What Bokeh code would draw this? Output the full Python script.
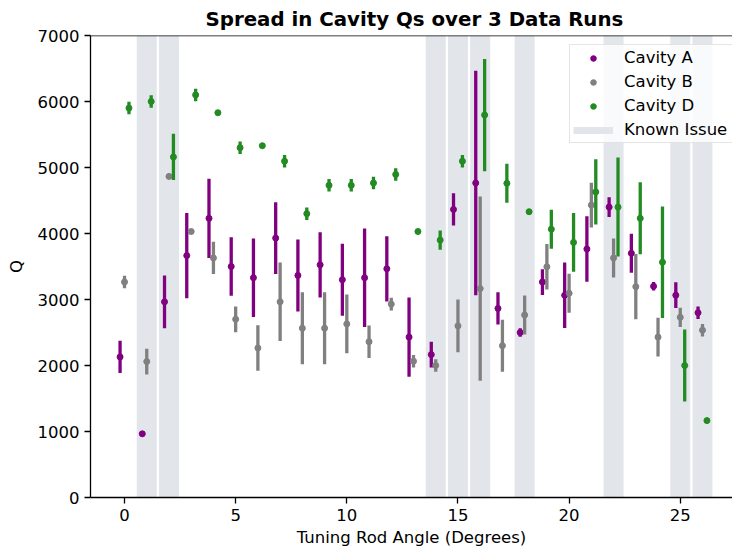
from bokeh.plotting import figure
from bokeh.models import Range1d, FixedTicker, Legend, LegendItem, Span
from bokeh.embed import file_html
from bokeh.resources import INLINE

# Tuning rod angles (degrees) and measured Q per cavity: mean and half-spread over 3 runs
angles = list(range(27))
cavity_a_q = [2130, 965, 2965, 3665, 4230, 3500, 3330, 3930, 3365, 3525, 3300, 3330, 3465, 2430,
              2165, 4365, 4765, 2865, 2500, 3265, 3065, 3765, 4400, 3700, 3200, 3065, 2800]
cavity_a_err = [245, 30, 400, 645, 600, 445, 595, 545, 545, 495, 545, 745, 495, 600,
                195, 245, 1700, 245, 65, 195, 495, 495, 150, 295, 65, 195, 95]
cavity_b_q = [3265, 2060, 4865, 4030, 3630, 2700, 2265, 2965, 2565, 2565, 2630, 2360, 2930, 2065,
              2000, 2600, 3165, 2300, 2765, 3495, 3095, 4430, 3630, 3195, 2430, 2730, 2535]
cavity_b_err = [95, 195, 30, 30, 245, 195, 345, 595, 545, 545, 445, 245, 95, 95,
                95, 400, 1395, 395, 295, 345, 295, 340, 295, 495, 295, 145, 95]
cavity_d_q = [5900, 6000, 5160, 6100, 5830, 5300, 5330, 5095, 4300, 4730, 4730, 4765, 4895, 4030,
              3900, 5095, 5795, 4760, 4330, 4065, 3865, 4630, 4400, 4230, 3565, 2000, 1165]
cavity_d_err = [95, 95, 350, 95, 30, 95, 30, 95, 95, 95, 95, 95, 95, 30,
                145, 95, 850, 295, 30, 295, 445, 495, 750, 545, 845, 545, 30]
issue_angles = [1, 2, 14, 15, 16, 18, 22, 25, 26]

x_ticks = [0, 5, 10, 15, 20, 25]
y_ticks = [0, 1000, 2000, 3000, 4000, 5000, 6000, 7000]

FONT = "DejaVu Sans"
BAND = "#e2e6eb"

p = figure(width=732, height=550, output_backend="svg", toolbar_location=None,
           x_range=Range1d(-1.53, 27.35), y_range=Range1d(0, 7000),
           min_border_left=90, min_border_right=0, min_border_top=34, min_border_bottom=53,
           background_fill_color="white", border_fill_color="white")

# shaded angles with known problems
p.quad(left=[a - 0.45 for a in issue_angles], right=[a + 0.45 for a in issue_angles],
       bottom=0, top=7000, fill_color=BAND, line_color=None)

series = [
    ("Cavity A", cavity_a_q, cavity_a_err, -0.2, "#800080"),
    ("Cavity B", cavity_b_q, cavity_b_err, 0.0, "#808080"),
    ("Cavity D", cavity_d_q, cavity_d_err, 0.2, "#228b22"),
]

items = []
for name, q, err, shift, color in series:
    xs = [a + shift for a in angles]
    lo = [v - e for v, e in zip(q, err)]
    hi = [v + e for v, e in zip(q, err)]
    p.segment(x0=xs, y0=lo, x1=xs, y1=hi, line_color=color, line_width=3.3)
    pts = p.scatter(xs, q, size=6, fill_color=color, line_color=color)
    items.append(LegendItem(label=name, renderers=[pts]))

# legend-only handle for the shaded bands (a single undrawn NaN point)
issue_handle = p.line(x=[float("nan")], y=[float("nan")], line_color=BAND, line_width=7)
items.append(LegendItem(label="Known Issue", renderers=[issue_handle]))

legend = Legend(items=items, location=(479, 354), orientation="vertical",
                glyph_width=40, glyph_height=14, label_height=14, label_width=112,
                label_standoff=11, spacing=5, padding=3, margin=0,
                label_text_font=FONT, label_text_font_size="16.5px", label_text_color="black",
                background_fill_color="white", background_fill_alpha=0.8,
                border_line_color="#cccccc", border_line_width=1)
p.add_layout(legend)

# top spine
p.add_layout(Span(location=7000, dimension="width", line_color="black", line_width=1.3))

p.title.text = "Spread in Cavity Qs over 3 Data Runs"
p.title.align = "left"
p.title.offset = 115
p.title.text_font = FONT
p.title.text_font_size = "19.8px"
p.title.text_font_style = "bold"
p.title.text_color = "black"
p.title.standoff = 10

p.xaxis.axis_label = "Tuning Rod Angle (Degrees)"
p.yaxis.axis_label = "Q"
p.xaxis.ticker = FixedTicker(ticks=x_ticks)
p.yaxis.ticker = FixedTicker(ticks=y_ticks)
for ax in (p.xaxis[0], p.yaxis[0]):
    ax.axis_line_color = "black"
    ax.axis_line_width = 1.3
    ax.major_tick_line_color = "black"
    ax.major_tick_line_width = 1.3
    ax.major_tick_out = 6
    ax.major_tick_in = 0
    ax.minor_tick_line_color = None
    ax.major_label_text_font = FONT
    ax.major_label_text_font_size = "16.5px"
    ax.major_label_text_color = "black"
    ax.major_label_standoff = 5
    ax.axis_label_text_font = FONT
    ax.axis_label_text_font_size = "16.5px"
    ax.axis_label_text_font_style = "normal"
    ax.axis_label_text_color = "black"
p.xaxis[0].axis_label_standoff = 4
p.yaxis[0].axis_label_standoff = 9

p.xgrid.visible = False
p.ygrid.visible = False
p.outline_line_color = None

open("out.html", "w").write(file_html(p, INLINE))
